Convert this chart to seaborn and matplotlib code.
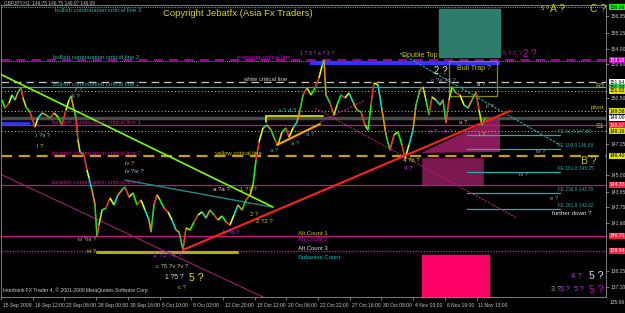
import numpy as np
import pandas as pd
import matplotlib
matplotlib.use('Agg')
import matplotlib.pyplot as plt
import seaborn as sns
from matplotlib.collections import LineCollection
from matplotlib.patches import Rectangle, Polygon
import matplotlib.transforms as mtransforms

sns.set_theme(style='dark')
plt.rcParams['font.family'] = ['Liberation Sans', 'DejaVu Sans']

# ---------------- data ----------------
bars = [4, 10, 18, 24, 30, 36, 42, 46, 52, 60, 70, 76, 84, 92, 100, 108, 116, 124, 132, 138,
        142, 148, 152, 156, 160, 168, 174, 178, 184, 190, 194, 198, 204, 212, 220, 228, 236, 244,
        250, 258, 266, 274, 282, 290, 298, 302, 308, 314, 320, 328, 336, 344, 352, 358, 366, 372,
        380, 388, 396, 404, 412, 420, 428, 436, 444, 452, 460, 468, 476, 484, 492, 500, 506, 512,
        518, 526, 534, 542, 550, 556, 564, 572, 578, 586, 594, 600, 606, 614, 622, 630, 638, 644,
        648, 652, 660, 668, 674, 682, 690, 698, 706, 714, 722, 730, 736, 742, 748, 756, 764, 772,
        780, 788, 796, 804, 810, 818, 826, 832, 840, 846, 852, 858, 864, 872, 880, 886, 892, 898,
        904, 912, 920, 928, 936, 944, 952, 958, 964, 970, 976]
prices = [150.36, 149.79, 150.15, 150.72, 150.36, 150.93, 151.22, 150.51, 149.87, 149.51,
          148.45, 149.08, 149.44, 149.30, 149.08, 149.44, 149.16, 148.59, 149.65, 150.36,
          150.65, 149.65, 149.08, 147.52, 146.67, 146.46, 145.39, 144.82, 143.97, 142.91,
          140.63, 141.49, 142.55, 142.69, 143.40, 142.91, 143.62, 143.97, 144.18, 143.47,
          143.76, 142.91, 143.26, 142.55, 141.84, 140.99, 142.91, 143.62, 143.26, 142.69,
          142.41, 141.84, 141.13, 140.99, 139.72, 141.27, 141.13, 141.70, 142.20, 142.41,
          141.98, 142.55, 142.20, 141.84, 142.12, 141.70, 141.49, 142.20, 142.91, 142.55,
          143.26, 143.62, 144.33, 146.10, 147.38, 148.37, 148.59, 148.23, 147.52, 147.17,
          148.09, 148.37, 147.73, 148.37, 148.80, 149.65, 150.72, 151.22, 150.72, 151.22,
          151.93, 152.78, 153.18, 150.72, 150.15, 149.30, 150.01, 150.72, 150.51, 150.86,
          150.22, 149.65, 149.51, 148.59, 148.23, 150.01, 151.57, 151.43, 149.65, 147.88,
          146.81, 147.88, 148.09, 147.17, 146.20, 147.17, 148.23, 150.01, 151.07, 151.29,
          150.36, 149.30, 150.58, 150.36, 150.01, 150.36, 148.73, 150.36, 151.29, 150.86,
          150.72, 150.01, 149.79, 150.36, 150.93, 149.65, 148.59, 149.08, 149.09]

x_tick_labels = ['15 Sep 2009', '18 Sep 12:00', '23 Sep 06:00', '28 Sep 00:00', '30 Sep 16:00',
                 '5 Oct 10:00', '8 Oct 02:00', '12 Oct 20:00', '15 Oct 12:00', '20 Oct 06:00',
                 '22 Oct 22:00', '27 Oct 16:00', '30 Oct 08:00', '4 Nov 03:00', '6 Nov 19:00',
                 '11 Nov 13:00']
price_ticks = [156.35, 155.15, 154.00, 152.90, 150.50, 147.25, 145.00, 143.85, 142.75,
               141.60, 138.25, 137.10]

level_prices = [156.96, 153.18, 151.64, 151.28, 151.02, 149.58, 149.09, 148.57, 148.16,
                146.40, 144.33, 140.71, 139.64]

fe_prices = [147.88, 146.88, 145.25, 143.76, 142.62]
fe_labels = ['FE 61.8 147.80', 'FE 100.0 146.88', 'FE 161.8 145.25', 'FE 236.6 143.76',
             'FE 261.8 142.62']

# trend lines: (bar0, price0, bar1, price1)
trend_green = [0, 152.21, 546, 142.76]
trend_teal = [250, 144.68, 544, 142.76]
trend_red = [366, 139.71, 1020, 149.58]
trend_crimson = [0, 145.11, 530, 136.30]
trend_crimson_dot = [630, 149.79, 1034, 141.98]
trend_crimson_up = [640, 148.80, 730, 150.36]
trend_orange = [554, 147.17, 640, 148.66]
trend_teal_dot = [800, 153.70, 1120, 147.17]

# ---------------- figure ----------------
fig = plt.figure(figsize=(6.25, 3.13), dpi=100, facecolor='black')
ax = fig.add_axes([1 / 625, 1 - 297 / 313, 605 / 625, 292 / 313])
ax.set_facecolor('black')
ax.set_xlim(2, 1212)
ax.set_ylim(136.37, 157.11)

FS = 4.3
teal = '#20b2aa'
crimson = '#c71585'
olive = '#c8c800'
magenta = '#cc00cc'

# zones / rectangles
ax.add_patch(Rectangle((878, 153.42), 122, 156.83 - 153.42, facecolor='#2e7d6b', edgecolor='#2e7d6b', zorder=1))
ax.add_patch(Rectangle((898, 150.65), 96, 153.13 - 150.65, facecolor='none', edgecolor='#8a8a00', lw=0.9, zorder=3))
ax.add_patch(Polygon([[842, 146.60], [1000, 149.25], [1000, 146.67]], closed=True,
                     facecolor='#8b1a5a', edgecolor='none', zorder=1))
ax.add_patch(Rectangle((844, 144.33), 122, 146.24 - 144.33, facecolor='#7a1850',
                       edgecolor=crimson, lw=0.6, ls=':', zorder=1))
ax.add_patch(Rectangle((844, 136.0), 134, 139.36 - 136.0, facecolor='#ff0066', edgecolor='#ff0066', zorder=1))

# horizontal levels
styles = [dict(color=teal, ls=(0, (1, 1)), lw=0.8),
          dict(color=magenta, ls=(0, (6, 4)), lw=1.1),
          dict(color='#c8c8c8', ls=(0, (6, 4)), lw=0.9),
          dict(color=teal, ls='-', lw=0.9),
          dict(color=olive, ls=(0, (1, 2)), lw=0.8),
          dict(color=olive, ls=(0, (1, 2)), lw=0.8),
          dict(color='#4a4a4a', ls='-', lw=2.5),
          dict(color=crimson, ls='-', lw=0.9),
          dict(color=olive, ls=(0, (1, 2)), lw=0.8),
          dict(color='#c8a000', ls=(0, (5, 3)), lw=1.6),
          dict(color=crimson, ls='-', lw=0.9),
          dict(color=crimson, ls='-', lw=0.9),
          dict(color=crimson, ls=(0, (1, 1)), lw=1.0)]
for p, st in zip(level_prices, styles):
    ax.axhline(p, zorder=2, **st)
ax.axhline(153.12, color=teal, ls=(0, (1, 1)), lw=0.7, zorder=2)

# blue bars
ax.plot([620, 1000], [153.02, 153.02], color='#3333ff', lw=3, solid_capstyle='butt', zorder=2)
ax.plot([0, 60], [148.73, 148.73], color='#3333ff', lw=2, solid_capstyle='butt', zorder=2)
# yellow segments
ax.plot([194, 474], [139.60, 139.60], color='#b0b000', lw=2.2, zorder=2)
ax.plot([532, 646], [149.26, 149.26], color='#d8d800', lw=1.3, zorder=4)
ax.plot([532, 532], [149.26, 148.80], color='#d8d800', lw=1.3, zorder=4)

# FE projection lines
for p in fe_prices:
    ax.plot([934, 1120], [p, p], color=teal, lw=0.9, zorder=2)
for p, tx in zip(fe_prices, fe_labels):
    ax.text(1116, p + 0.22, tx, color=teal, fontsize=3.4, va='center', ha='left', zorder=5)

# trend lines
def seg(ln, **kw):
    ax.plot([ln[0], ln[2]], [ln[1], ln[3]], **kw)

seg(trend_crimson, color='#a0206a', lw=0.8, zorder=2)
seg(trend_crimson_dot, color='#b0206a', lw=0.8, ls=(0, (2, 1)), zorder=2)
seg(trend_crimson_up, color='#b0206a', lw=0.8, ls=(0, (2, 1)), zorder=2)
seg(trend_teal, color='#1f8a8a', lw=1.0, zorder=3)
seg(trend_teal_dot, color='#1f9a9a', lw=0.9, ls=(0, (2, 1)), zorder=3)

# price series
df = pd.DataFrame({'bar': bars, 'price': prices})
sns.lineplot(data=df, x='bar', y='price', sort=False, color='#1a9a1a', lw=1.1, ax=ax, zorder=4)
pts = np.column_stack([bars, prices])
segs = np.stack([pts[:-1], pts[1:]], axis=1)
cyc = ['#00ff00', '#ff2020', '#ffff00', '#00e0e0', '#ff8c00', '#32cd32', '#ff3030', '#e0e000']
lc = LineCollection(segs, colors=[cyc[i % len(cyc)] for i in range(len(segs))], linewidths=1.0, zorder=5)
ax.add_collection(lc)

seg(trend_green, color='#7cfc00', lw=1.2, zorder=6)
seg(trend_red, color='#ff2020', lw=1.5, zorder=6)
seg(trend_orange, color='#ffa500', lw=1.5, zorder=6)

# line labels
def t(x, y, s, c, fs=FS, **kw):
    ax.text(x, y, s, color=c, fontsize=fs, zorder=7, **kw)

t(110, 156.70, 'bullish continuation critical line 3', teal, va='center')
t(106, 153.20, 'bullish continuation critical line 2', teal, va='bottom')
t(106, 151.30, 'bullish continuation critical line 1', teal, va='bottom')
t(474, 153.20, 'magenta critical line', magenta, va='bottom')
t(486, 151.66, 'white critical line', '#d0d0d0', va='bottom')
t(104, 148.59, 'bearish continuation critical line 1', crimson, va='bottom')
t(104, 146.42, 'bearish continuation critical line 2', crimson, va='bottom')
t(430, 146.42, 'yellow critical line', olive, va='bottom')
t(104, 144.35, 'bearish continuation critical line 3', crimson, va='bottom')
t(596, 140.73, 'Alt Count 1', olive, va='bottom')
t(596, 140.43, 'Alt Count 2', magenta, va='center')
t(596, 139.80, 'Alt Count 3', '#e0e0e0', va='center')
t(596, 139.20, 'Subwave Count', '#00cccc', va='center')
t(804, 153.55, 'Double Top', olive, fs=5, va='center')
t(914, 152.60, 'Bull Trap ?', olive, fs=5, va='center')
t(1208, 151.30, 'R3', olive, fs=5, va='center', ha='right')
t(1208, 149.85, 'pivot', olive, fs=4.5, va='center', ha='right')
t(1208, 148.45, 'S1', olive, fs=5, va='center', ha='right')
t(1104, 142.30, 'further down ?', '#e0e0e0', fs=4.5, va='center')
t(326, 156.50, 'Copyright Jebatfx (Asia Fx Traders)', '#d8d820', fs=6.8, va='center')

# wave labels
waves = [
    (144, 150.58, 'ii ?', '#8fbcbc', 4.3), (150, 151.10, 'ii ?', '#a0a0a0', 4.0),
    (72, 147.81, 'i ?ii ?', '#8fbcbc', 4.3), (74, 147.03, 'i ?', olive, 4.3),
    (250, 145.82, 'iv ?', olive, 4.3), (250, 145.25, 'iv ?iv ?', '#8fd0d0', 4.3),
    (156, 140.42, 'iii ?iii ?', '#b0b0b0', 4.3), (174, 139.57, 'iii ?', olive, 4.3),
    (306, 139.29, '1 ?5 ?v ?', '#b040e0', 5.0), (312, 138.57, 'c ?5 ?v ?v ?', '#c0c0c0', 4.3),
    (330, 137.72, '1 ?5 ?', '#e0e0e0', 4.8), (378, 137.72, '5 ?', '#e0e000', 7.5),
    (356, 137.05, 'c ?', olive, 4.3), (426, 144.04, 'a ?a ?', '#e0e0e0', 4.3),
    (480, 144.00, '1 ?1 ?', olive, 4.3), (500, 142.20, '2 ?', olive, 4.3),
    (512, 141.70, '2 ?2 ?', olive, 4.3), (446, 140.95, 'b ?b ?', '#b040e0', 4.3),
    (540, 146.81, 'a ?', teal, 4.3), (582, 147.24, 'a ?', teal, 4.3),
    (612, 147.88, 'a ?', teal, 4.3), (556, 149.65, 'a ? d ?', teal, 4.3),
    (600, 153.63, '1 ? 3 ? a ? 3 ?', '#b040e0', 3.8),
    (858, 148.16, 'e ?', '#b040e0', 4.3), (888, 148.16, 'e ?', '#b040e0', 4.3),
    (918, 148.73, 'a ?', '#c0c0c0', 4.3), (874, 151.14, 'b ?', '#b040e0', 4.3),
    (868, 152.42, '2 ?', '#e0e0e0', 7.0), (862, 151.78, 'c ?a ?d ?', '#c080c0', 4.3),
    (954, 151.43, 'a ?', '#e0e0e0', 4.3), (972, 149.87, 'ii ?', '#a0a0a0', 4.3),
    (958, 147.88, 'i ?', olive, 4.3), (1072, 146.74, 'iv ?', '#a0a0a0', 4.3),
    (1038, 145.04, 'iii ?', '#a0a0a0', 4.3), (1100, 143.40, 'e ?', '#a0a0a0', 4.3),
    (806, 146.03, '4 ?b ?', '#e0e000', 4.3), (808, 145.53, '4 ?', '#b040e0', 4.3),
    (1006, 153.63, '5 ? C ?', magenta, 4.3), (1046, 153.63, '2 ?', magenta, 7.0),
    (1082, 156.83, '5 ?', olive, 4.3), (1100, 156.83, 'A ?', olive, 7.5),
    (1180, 156.83, 'C ?', olive, 7.5), (1162, 146.00, 'B ?', olive, 7.5),
    (1142, 137.85, '4 ?', '#b040e0', 5.5), (1178, 137.85, '5 ?', '#e0e0e0', 7.5),
    (1102, 136.90, '3 ?', '#a0a0a0', 5.0), (1120, 136.90, '3 ?', '#b040e0', 5.0),
    (1148, 136.90, '5 ?', '#b040e0', 5.0), (1178, 136.90, '5 ?', magenta, 7.5),
]
for x, y, s, c, fs in waves:
    t(x, y, s, c, fs=fs, va='center')

# header / footer
fig.text(4 / 625, 1 - 3 / 313, 'GBPJPY,H1  149.75 149.75 149.07 149.09', color='#c0c0c0',
         fontsize=3.4, va='center', ha='left')
t(6, 136.82, 'Interbank FX Trader 4, \u00a9 2001-2008 MetaQuotes Software Corp.', '#d0d0d0', fs=3.6,
  va='center')

# axes: x ticks
xt = [2 + 63.4 * k for k in range(len(x_tick_labels))]
ax.set_xticks(xt)
ax.set_xticklabels(x_tick_labels)
ax.tick_params(axis='x', colors='#a0a0a0', labelsize=3.6, length=2.5, width=0.5, pad=1.5,
               labelcolor='#c8c8c8', direction='out', bottom=True)
for lbl in ax.get_xticklabels():
    lbl.set_horizontalalignment('left')
    lbl.set_transform(lbl.get_transform() + mtransforms.ScaledTranslation(2 / 100, 0, fig.dpi_scale_trans))

# y ticks on right
ax.yaxis.tick_right()
ax.set_yticks(price_ticks)
ax.set_yticklabels(['%.2f' % v for v in price_ticks])
ax.tick_params(axis='y', colors='#a0a0a0', labelsize=3.6, length=2, width=0.5, pad=1.5,
               labelcolor='#c8c8c8', right=True, left=False)
ax.set_xlabel('')
ax.set_ylabel('')
ax.grid(False)
for sp in ax.spines.values():
    sp.set_color('#909090')
    sp.set_linewidth(0.6)

trans = mtransforms.blended_transform_factory(ax.transAxes, ax.transData)
fig.text(1 - 15 / 625, 1 - 303 / 313, '135.96', color='#c8c8c8', fontsize=3.6, va='center', ha='left')

boxes = [(156.96, '#00ff00', 'black'), (153.18, '#cc00cc', 'white'), (151.64, 'white', 'black'),
         (151.28, '#33cc66', 'black'), (151.02, '#e0e000', 'black'), (149.58, '#e0e000', 'black'),
         (149.09, 'white', 'black'), (148.57, '#ff2040', 'white'), (148.16, '#e0e000', 'black'),
         (146.40, '#e0e000', 'black'), (144.33, '#ff2040', 'white'), (140.71, '#ff2040', 'white'),
         (139.64, '#ff2040', 'white')]
for p, fc, tc in boxes:
    ax.text(1.006, p, '%.2f' % p, transform=trans, color=tc, fontsize=3.6, va='center', ha='left',
            bbox=dict(boxstyle='square,pad=0.12', facecolor=fc, edgecolor='none'), clip_on=False, zorder=8)

fig.savefig('out.png', dpi=100, facecolor='black')
